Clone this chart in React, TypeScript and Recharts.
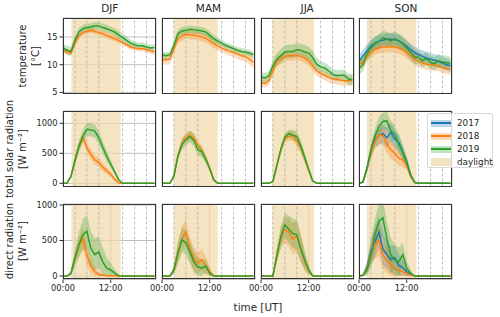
import { Area, CartesianGrid, ComposedChart, Line, ReferenceArea, ReferenceLine, XAxis, YAxis } from "recharts";

const seasons = ["DJF", "MAM", "JJA", "SON"];
const hours = [0, 1, 2, 3, 4, 5, 6, 7, 8, 9, 10, 11, 12, 13, 14, 15, 16, 17, 18, 19, 20, 21, 22, 23];
const minorHours = [3, 6, 9, 15, 18, 21];
const dayStart = [2.1, 2.95, 2.85, 2.0];
const dayEnd = [14.5, 14.0, 13.35, 14.45];
const years = ["2017", "2018", "2019"];
const yearColors = ["#1f77b4", "#ff7f0e", "#2ca02c"];

// temperature [°C]
const tempDJF2018 = [12.6, 12.3, 12.1, 13.8, 15.2, 15.8, 16.0, 16.2, 16.0, 15.8, 15.6, 15.3, 15.0, 14.7, 14.4, 14.0, 13.6, 13.2, 13.0, 12.9, 12.9, 12.7, 12.5, 12.3];
const tempDJF2019 = [13.1, 12.6, 12.4, 14.4, 15.9, 16.5, 16.7, 16.8, 17.0, 17.0, 16.7, 16.5, 16.2, 15.9, 15.4, 14.9, 14.4, 13.9, 13.6, 13.4, 13.4, 13.2, 13.0, 13.1];
const tempMAM2018 = [10.9, 10.9, 11.0, 12.9, 14.7, 15.1, 15.5, 15.4, 15.3, 15.2, 15.0, 14.8, 14.3, 13.8, 13.4, 13.0, 12.7, 12.4, 12.2, 11.9, 11.6, 11.5, 11.0, 10.4];
const tempMAM2019 = [11.8, 11.6, 11.8, 13.5, 15.6, 16.1, 16.2, 16.4, 16.3, 16.2, 16.1, 15.9, 15.3, 14.7, 14.3, 13.9, 13.5, 13.2, 12.9, 12.6, 12.4, 12.3, 12.1, 11.8];
const tempJJA2018 = [6.8, 6.6, 7.1, 8.9, 10.7, 11.0, 11.5, 11.6, 11.6, 11.7, 11.5, 11.2, 10.7, 9.8, 8.9, 8.4, 8.1, 7.7, 7.4, 7.4, 7.2, 7.1, 7.1, 7.2];
const tempJJA2019 = [7.8, 7.6, 8.0, 9.8, 11.0, 11.6, 12.3, 12.4, 12.4, 12.7, 12.6, 12.3, 12.1, 11.3, 10.1, 9.6, 9.4, 8.9, 8.3, 8.0, 8.1, 8.1, 7.4, 7.3];
const tempSON2017 = [10.6, 11.6, 12.5, 13.4, 13.9, 14.3, 14.4, 14.6, 14.6, 14.5, 14.3, 13.9, 13.3, 12.7, 12.2, 11.8, 11.5, 11.2, 11.0, 10.8, 10.6, 10.3, 10.0, 9.8];
const tempSON2018 = [10.0, 10.5, 11.5, 12.3, 12.8, 13.0, 13.2, 13.2, 13.3, 13.2, 13.0, 12.7, 12.2, 11.6, 11.0, 10.6, 10.3, 10.1, 10.0, 9.9, 9.8, 9.5, 9.3, 9.2];
const tempSON2019 = [9.3, 10.0, 12.0, 13.0, 13.8, 14.2, 14.9, 14.6, 14.3, 14.7, 14.3, 13.8, 13.0, 12.2, 11.4, 11.3, 10.7, 11.2, 10.4, 10.2, 10.7, 10.5, 10.4, 10.2];

const sdTempDJF2018 = [0.5, 0.5, 0.5, 0.6, 0.5, 0.5, 0.5, 0.5, 0.5, 0.5, 0.5, 0.5, 0.5, 0.5, 0.5, 0.5, 0.5, 0.5, 0.5, 0.5, 0.5, 0.5, 0.5, 0.5];
const sdTempDJF2019 = [0.7, 0.8, 0.8, 0.8, 0.7, 0.7, 0.7, 0.7, 0.7, 0.7, 0.7, 0.7, 0.7, 0.7, 0.7, 0.7, 0.7, 0.6, 0.6, 0.6, 0.6, 0.6, 0.6, 0.6];
const sdTempMAM2018 = [0.9, 0.9, 0.9, 0.9, 0.8, 0.8, 0.8, 0.8, 0.8, 0.8, 0.8, 0.8, 0.8, 0.8, 0.8, 0.8, 0.8, 0.8, 0.9, 0.9, 0.9, 0.9, 1.0, 1.0];
const sdTempMAM2019 = [0.6, 0.6, 0.6, 0.7, 0.7, 0.7, 0.7, 0.7, 0.7, 0.7, 0.7, 0.7, 0.7, 0.7, 0.7, 0.6, 0.6, 0.6, 0.6, 0.6, 0.6, 0.6, 0.6, 0.6];
const sdTempJJA2018 = [0.8, 0.8, 0.8, 0.9, 0.9, 0.9, 0.9, 0.9, 0.9, 0.9, 0.9, 0.9, 0.9, 0.9, 0.9, 0.9, 0.9, 0.9, 0.9, 0.9, 0.9, 0.9, 0.9, 0.9];
const sdTempJJA2019 = [0.9, 0.9, 0.9, 1.1, 1.2, 1.2, 1.2, 1.2, 1.2, 1.2, 1.2, 1.2, 1.2, 1.2, 1.1, 1.0, 1.0, 1.0, 1.0, 1.0, 1.0, 1.0, 1.0, 1.0];
const sdTempSON2017 = [1.1, 1.1, 1.1, 1.1, 1.1, 1.1, 1.1, 1.1, 1.1, 1.1, 1.1, 1.1, 1.1, 1.1, 1.1, 1.1, 1.1, 1.1, 1.1, 1.1, 1.1, 1.1, 1.1, 1.1];
const sdTempSON2018 = [1.0, 1.0, 1.0, 1.0, 1.0, 1.0, 1.0, 1.0, 1.0, 1.0, 1.0, 1.0, 1.0, 1.0, 1.0, 1.0, 1.0, 1.0, 1.0, 1.0, 1.0, 1.0, 1.0, 1.0];
const sdTempSON2019 = [1.2, 1.2, 1.3, 1.3, 1.3, 1.3, 1.3, 1.3, 1.3, 1.3, 1.3, 1.3, 1.3, 1.3, 1.3, 1.2, 1.2, 1.2, 1.2, 1.2, 1.2, 1.2, 1.2, 1.2];

// total solar radiation [W m-2]
const totDJF2018 = [0, 0, 110, 370, 600, 770, 600, 480, 390, 350, 270, 210, 150, 70, 10, 0, 0, 0, 0, 0, 0, 0, 0, 0];
const totDJF2019 = [0, 0, 120, 380, 620, 780, 900, 890, 870, 760, 600, 450, 320, 190, 60, 0, 0, 0, 0, 0, 0, 0, 0, 0];
const totMAM2018 = [0, 0, 0, 130, 460, 660, 760, 800, 760, 640, 540, 410, 250, 60, 0, 0, 0, 0, 0, 0, 0, 0, 0, 0];
const totMAM2019 = [0, 0, 0, 120, 450, 650, 720, 780, 720, 560, 530, 400, 250, 60, 0, 0, 0, 0, 0, 0, 0, 0, 0, 0];
const totJJA2018 = [0, 0, 0, 30, 300, 560, 750, 780, 800, 700, 600, 420, 220, 40, 0, 0, 0, 0, 0, 0, 0, 0, 0, 0];
const totJJA2019 = [0, 0, 0, 30, 300, 570, 770, 830, 800, 780, 620, 430, 230, 40, 0, 0, 0, 0, 0, 0, 0, 0, 0, 0];
const totSON2017 = [0, 20, 250, 520, 720, 790, 830, 760, 850, 740, 680, 520, 360, 140, 15, 0, 0, 0, 0, 0, 0, 0, 0, 0];
const totSON2018 = [0, 20, 240, 500, 700, 800, 800, 650, 560, 500, 420, 390, 300, 120, 10, 0, 0, 0, 0, 0, 0, 0, 0, 0];
const totSON2019 = [0, 20, 250, 560, 780, 950, 1030, 1040, 880, 820, 650, 520, 350, 130, 15, 0, 0, 0, 0, 0, 0, 0, 0, 0];

const sdTotDJF2018 = [0, 0, 20, 50, 70, 80, 80, 80, 80, 80, 70, 60, 50, 30, 10, 0, 0, 0, 0, 0, 0, 0, 0, 0];
const sdTotDJF2019 = [0, 0, 30, 70, 100, 110, 110, 110, 110, 110, 100, 90, 70, 40, 20, 0, 0, 0, 0, 0, 0, 0, 0, 0];
const sdTotMAM2018 = [0, 0, 0, 30, 60, 80, 80, 80, 80, 80, 70, 60, 50, 20, 0, 0, 0, 0, 0, 0, 0, 0, 0, 0];
const sdTotMAM2019 = [0, 0, 0, 30, 60, 90, 100, 100, 100, 100, 90, 70, 50, 20, 0, 0, 0, 0, 0, 0, 0, 0, 0, 0];
const sdTotJJA2018 = [0, 0, 0, 10, 40, 60, 70, 80, 90, 100, 100, 80, 50, 10, 0, 0, 0, 0, 0, 0, 0, 0, 0, 0];
const sdTotJJA2019 = [0, 0, 0, 10, 40, 60, 60, 70, 80, 100, 100, 80, 50, 10, 0, 0, 0, 0, 0, 0, 0, 0, 0, 0];
const sdTotSON2017 = [0, 10, 60, 100, 130, 150, 160, 160, 160, 150, 140, 120, 90, 40, 10, 0, 0, 0, 0, 0, 0, 0, 0, 0];
const sdTotSON2018 = [0, 10, 60, 100, 120, 140, 150, 150, 150, 140, 130, 110, 80, 40, 10, 0, 0, 0, 0, 0, 0, 0, 0, 0];
const sdTotSON2019 = [0, 10, 60, 100, 130, 150, 150, 150, 160, 150, 140, 120, 90, 40, 10, 0, 0, 0, 0, 0, 0, 0, 0, 0];

// direct radiation [W m-2]
const dirDJF2018 = [0, 0, 40, 250, 420, 530, 300, 140, 60, 20, 10, 5, 5, 3, 0, 0, 0, 0, 0, 0, 0, 0, 0, 0];
const dirDJF2019 = [0, 0, 40, 250, 440, 580, 630, 390, 300, 340, 200, 110, 85, 40, 5, 0, 0, 0, 0, 0, 0, 0, 0, 0];
const dirMAM2018 = [0, 0, 0, 90, 330, 520, 620, 380, 250, 180, 230, 150, 60, 5, 0, 0, 0, 0, 0, 0, 0, 0, 0, 0];
const dirMAM2019 = [0, 0, 0, 85, 320, 510, 470, 340, 200, 130, 110, 140, 40, 0, 0, 0, 0, 0, 0, 0, 0, 0, 0, 0];
const dirJJA2018 = [0, 0, 0, 0, 290, 540, 650, 620, 520, 560, 400, 200, 80, 0, 0, 0, 0, 0, 0, 0, 0, 0, 0, 0];
const dirJJA2019 = [0, 0, 0, 0, 295, 555, 720, 660, 600, 580, 390, 225, 85, 0, 0, 0, 0, 0, 0, 0, 0, 0, 0, 0];
const dirSON2017 = [0, 10, 120, 350, 480, 620, 380, 300, 230, 260, 150, 120, 60, 20, 0, 0, 0, 0, 0, 0, 0, 0, 0, 0];
const dirSON2018 = [0, 10, 100, 320, 450, 500, 300, 220, 150, 100, 80, 60, 40, 10, 0, 0, 0, 0, 0, 0, 0, 0, 0, 0];
const dirSON2019 = [0, 10, 85, 295, 580, 765, 820, 530, 295, 225, 200, 300, 110, 40, 0, 0, 0, 0, 0, 0, 0, 0, 0, 0];

const sdDirDJF2018 = [0, 0, 30, 100, 130, 150, 150, 110, 70, 40, 20, 10, 10, 5, 0, 0, 0, 0, 0, 0, 0, 0, 0, 0];
const sdDirDJF2019 = [0, 0, 30, 120, 180, 220, 230, 240, 230, 220, 200, 150, 100, 60, 20, 0, 0, 0, 0, 0, 0, 0, 0, 0];
const sdDirMAM2018 = [0, 0, 0, 60, 150, 180, 170, 170, 160, 150, 150, 120, 70, 10, 0, 0, 0, 0, 0, 0, 0, 0, 0, 0];
const sdDirMAM2019 = [0, 0, 0, 60, 150, 170, 170, 160, 150, 130, 110, 100, 50, 0, 0, 0, 0, 0, 0, 0, 0, 0, 0, 0];
const sdDirJJA2018 = [0, 0, 0, 0, 100, 150, 180, 200, 220, 220, 200, 140, 60, 0, 0, 0, 0, 0, 0, 0, 0, 0, 0, 0];
const sdDirJJA2019 = [0, 0, 0, 0, 100, 150, 170, 190, 210, 210, 190, 130, 60, 0, 0, 0, 0, 0, 0, 0, 0, 0, 0, 0];
const sdDirSON2017 = [0, 10, 80, 180, 220, 230, 220, 200, 190, 180, 150, 110, 60, 20, 0, 0, 0, 0, 0, 0, 0, 0, 0, 0];
const sdDirSON2018 = [0, 10, 80, 170, 200, 220, 200, 180, 160, 140, 110, 80, 50, 10, 0, 0, 0, 0, 0, 0, 0, 0, 0, 0];
const sdDirSON2019 = [0, 10, 80, 180, 230, 250, 260, 250, 240, 220, 200, 170, 100, 40, 0, 0, 0, 0, 0, 0, 0, 0, 0, 0];

type Pair = [number[], number[]] | null;

// per row, per season: [2017, 2018, 2019]
const grid: Pair[][][] = [
  [
    [null, [tempDJF2018, sdTempDJF2018], [tempDJF2019, sdTempDJF2019]],
    [null, [tempMAM2018, sdTempMAM2018], [tempMAM2019, sdTempMAM2019]],
    [null, [tempJJA2018, sdTempJJA2018], [tempJJA2019, sdTempJJA2019]],
    [[tempSON2017, sdTempSON2017], [tempSON2018, sdTempSON2018], [tempSON2019, sdTempSON2019]],
  ],
  [
    [null, [totDJF2018, sdTotDJF2018], [totDJF2019, sdTotDJF2019]],
    [null, [totMAM2018, sdTotMAM2018], [totMAM2019, sdTotMAM2019]],
    [null, [totJJA2018, sdTotJJA2018], [totJJA2019, sdTotJJA2019]],
    [[totSON2017, sdTotSON2017], [totSON2018, sdTotSON2018], [totSON2019, sdTotSON2019]],
  ],
  [
    [null, [dirDJF2018, sdDirDJF2018], [dirDJF2019, sdDirDJF2019]],
    [null, [dirMAM2018, sdDirMAM2018], [dirMAM2019, sdDirMAM2019]],
    [null, [dirJJA2018, sdDirJJA2018], [dirJJA2019, sdDirJJA2019]],
    [[dirSON2017, sdDirSON2017], [dirSON2018, sdDirSON2018], [dirSON2019, sdDirSON2019]],
  ],
];

const rowDomains = [[4.8, 18.43], [-53, 1205], [-49, 1014]];
const rowTicks = [[5, 10, 15], [0, 500, 1000], [0, 500, 1000]];
const rowLabels = [["temperature", "[°C]"], ["total solar radiation", "[W m⁻²]"], ["direct radiation", "[W m⁻²]"]];
const rowLabelX = [28.5, 16, 16];

// layout
const colX = [63.3, 162, 260.7, 359.4];
const rowY = [18.3, 111, 203.7];
const PW = 93;
const PH = 75.5;
const T = 7;

const fmtHour = (h: number) => `${String(h).padStart(2, "0")}:00`;

function buildRows(row: number, col: number) {
  const series = grid[row][col];
  const clip = row > 0;
  return hours.map((h, i) => {
    const r: any = { h };
    series.forEach((s, k) => {
      if (!s) return;
      const m = s[0][i];
      const sd = s[1][i];
      r["m" + years[k]] = m;
      r["b" + years[k]] = [clip ? Math.max(0, m - sd) : m - sd, m + sd];
    });
    return r;
  });
}

function Panel({ row, col }: { row: number; col: number }) {
  const L = col === 0 ? 32 : 16;
  const B = row === 2 ? 18 : 5;
  const data = buildRows(row, col);
  const series = grid[row][col];
  return (
    <div style={{ position: "absolute", left: colX[col] - L, top: rowY[row] - T }}>
      <ComposedChart
        width={L + PW + 16}
        height={T + PH + B}
        data={data}
        margin={{ top: T, right: 16, left: 0, bottom: 0 }}
      >
        <ReferenceArea
          x1={dayStart[col]}
          x2={dayEnd[col]}
          fill="#f0d9a8"
          fillOpacity={0.7}
          stroke="none"
          ifOverflow="hidden"
        />
        <CartesianGrid stroke="#b0b0b0" strokeWidth={0.8} />
        {minorHours.map((m) => (
          <ReferenceLine key={m} x={m} stroke="#b0b0b0" strokeWidth={0.8} strokeDasharray="3 2" />
        ))}
        <XAxis
          type="number"
          dataKey="h"
          domain={[0, 23.4]}
          ticks={[0, 12]}
          interval={0}
          tickFormatter={fmtHour}
          allowDataOverflow
          axisLine={false}
          tickSize={3.5}
          tickLine={{ stroke: "#333" }}
          tick={row === 2 ? { fontSize: 8.3, fill: "#262626" } : false}
          height={B}
        />
        <YAxis
          type="number"
          domain={rowDomains[row]}
          ticks={rowTicks[row]}
          interval={0}
          allowDataOverflow
          axisLine={false}
          tickSize={3.5}
          tickLine={{ stroke: "#333" }}
          tick={col === 0 ? { fontSize: 8.3, fill: "#262626" } : false}
          width={L}
        />
        {series.map((s, k) =>
          s ? (
            <Area
              key={"b" + k}
              dataKey={"b" + years[k]}
              stroke="none"
              fill={yearColors[k]}
              fillOpacity={0.28}
              isAnimationActive={false}
              dot={false}
              activeDot={false}
            />
          ) : null
        )}
        {series.map((s, k) =>
          s ? (
            <Line
              key={"m" + k}
              dataKey={"m" + years[k]}
              stroke={yearColors[k]}
              strokeWidth={1.5}
              dot={false}
              activeDot={false}
              isAnimationActive={false}
            />
          ) : null
        )}
      </ComposedChart>
      <div
        style={{
          position: "absolute",
          left: L,
          top: T,
          width: PW,
          height: PH,
          border: "1px solid #333",
          boxSizing: "border-box",
          pointerEvents: "none",
        }}
      />
    </div>
  );
}

const legendItems = [
  { label: "2017", color: yearColors[0] },
  { label: "2018", color: yearColors[1] },
  { label: "2019", color: yearColors[2] },
];

export default function App() {
  const cells = [];
  for (let r = 0; r < 3; r++) for (let c = 0; c < 4; c++) cells.push(<Panel key={r + "-" + c} row={r} col={c} />);
  return (
    <div
      style={{
        position: "absolute",
        left: 0,
        top: 0,
        width: 500,
        height: 317,
        background: "#fff",
        fontFamily: "'DejaVu Sans', sans-serif",
        color: "#262626",
      }}
    >
      {cells}
      {seasons.map((s, c) => (
        <div
          key={s}
          style={{ position: "absolute", left: colX[c], width: PW, top: 2, textAlign: "center", fontSize: 10.5 }}
        >
          {s}
        </div>
      ))}
      {rowLabels.map((lines, r) => (
        <div
          key={r}
          style={{
            position: "absolute",
            left: rowLabelX[r],
            top: rowY[r] + PH / 2,
            transform: "translate(-50%, -50%) rotate(-90deg)",
            whiteSpace: "nowrap",
            textAlign: "center",
            fontSize: 10,
            lineHeight: "12.5px",
          }}
        >
          <div>{lines[0]}</div>
          <div>{lines[1]}</div>
        </div>
      ))}
      <div style={{ position: "absolute", left: 208, width: 100, top: 301, textAlign: "center", fontSize: 10.4 }}>
        time [UT]
      </div>
      <div
        style={{
          position: "absolute",
          left: 427,
          top: 113,
          width: 66,
          height: 55,
          background: "rgba(255,255,255,0.8)",
          border: "1px solid #d9d9d9",
          borderRadius: 2,
          boxSizing: "border-box",
          fontSize: 8.8,
        }}
      >
        {legendItems.map((it, i) => (
          <div key={it.label} style={{ position: "absolute", left: 3, top: 3 + i * 13, height: 12, display: "flex", alignItems: "center" }}>
            <div style={{ position: "relative", width: 20, height: 7, background: it.color }}>
              <div style={{ position: "absolute", inset: 0, background: "rgba(255,255,255,0.7)" }} />
              <div style={{ position: "absolute", left: 0, right: 0, top: 2.5, height: 1.8, background: it.color }} />
            </div>
            <span style={{ marginLeft: 6 }}>{it.label}</span>
          </div>
        ))}
        <div style={{ position: "absolute", left: 3, top: 3 + 3 * 13, height: 12, display: "flex", alignItems: "center" }}>
          <div style={{ width: 20, height: 8, background: "#f0d9a8", opacity: 0.7 }} />
          <span style={{ marginLeft: 6 }}>daylight</span>
        </div>
      </div>
    </div>
  );
}
